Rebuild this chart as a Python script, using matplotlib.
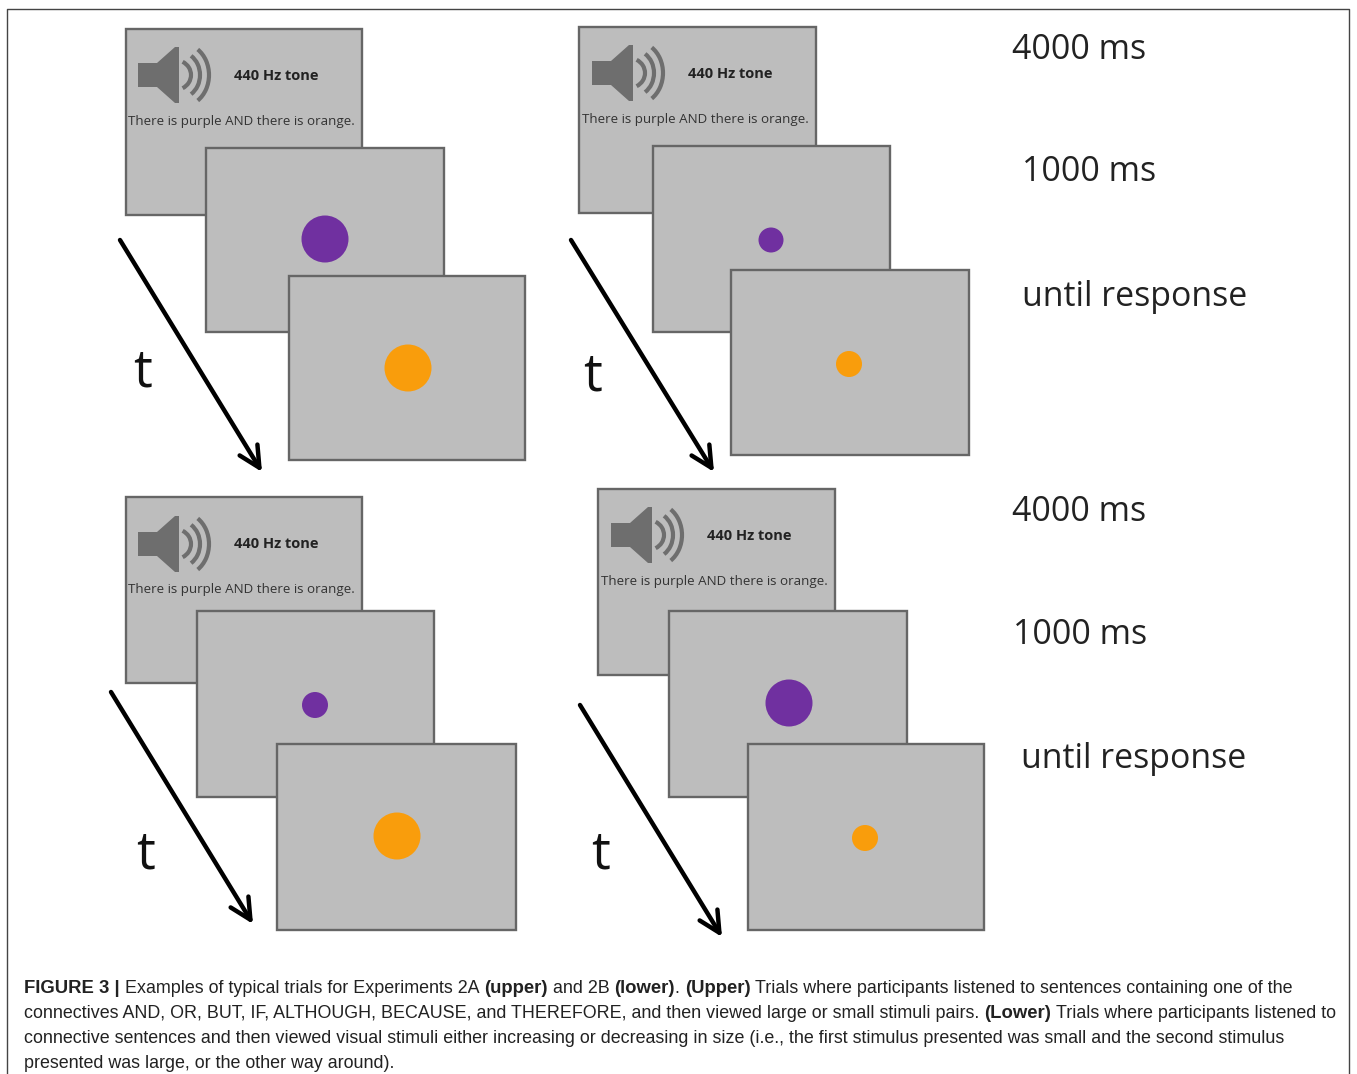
import matplotlib
matplotlib.use("Agg")
import matplotlib.pyplot as plt
from matplotlib.patches import Rectangle, Circle, Polygon, Arc

W, H = 1357, 1074
GREY = "#bdbdbd"
EDGE = "#666666"
PURPLE = "#7030a0"
ORANGE = "#f99d0c"
SPK = "#6e6e6e"

# Panels: sound slide (x0, y0, x1, y1), then the two stimulus slides
sound_slides = [(126, 29, 362, 215), (579, 27, 816, 213), (126, 497, 362, 683), (598, 489, 835, 675)]
first_slides = [(206, 148, 444, 332), (653, 146, 890, 332), (197, 611, 434, 797), (669, 611, 907, 797)]
second_slides = [(289, 276, 525, 460), (731, 270, 969, 455), (277, 744, 516, 930), (748, 744, 984, 930)]
purple_dots = [(325, 239, 23.5), (771, 240, 12.5), (315, 705, 13), (789, 703, 23.5)]
orange_dots = [(408, 368, 23.5), (849, 364, 13), (397, 836, 23.5), (865, 838, 13)]
speakers = [(138, 75), (592, 73), (138, 544), (611, 535)]
tone_pos = [(276, 76), (730, 74), (276, 544), (749, 536)]
sentence_pos = [(241, 122), (695, 120), (241, 589), (714, 581)]
arrows = [((120, 240), (262, 472)), ((571, 240), (714, 472)), ((111, 692), (253, 924)), ((580, 705), (722, 937))]
t_pos = [(143, 373), (593, 377), (146, 855), (601, 855)]

tone_label = "440 Hz tone"
sentence = "There is purple AND there is orange."
time_labels = ["4000 ms", "1000 ms", "until response", "4000 ms", "1000 ms", "until response"]
time_pos = [(1012, 50), (1022, 172), (1022, 297), (1012, 512), (1013, 635), (1021, 759)]

caption = [
    [("FIGURE 3 |", True), (" Examples of typical trials for Experiments 2A ", False), ("(upper)", True),
     (" and 2B ", False), ("(lower)", True), (". ", False), ("(Upper)", True),
     (" Trials where participants listened to sentences containing one of the", False)],
    [("connectives AND, OR, BUT, IF, ALTHOUGH, BECAUSE, and THEREFORE, and then viewed large or small stimuli pairs. ", False),
     ("(Lower)", True), (" Trials where participants listened to", False)],
    [("connective sentences and then viewed visual stimuli either increasing or decreasing in size (i.e., the first stimulus presented was small and the second stimulus", False)],
    [("presented was large, or the other way around).", False)],
]
caption_y = [993, 1018, 1043, 1068]
CAP_SIZE = 12.9
CAP_BOLD_SIZE = 13.3

fig = plt.figure(figsize=(W / 100, H / 100), dpi=100)
ax = fig.add_axes([0, 0, 1, 1])
ax.set_xlim(0, W)
ax.set_ylim(H, 0)
ax.axis("off")

# outer frame, runs off the bottom
ax.plot([7, 7, 1349, 1349], [H, 9, 9, H], color="#444444", lw=1)


def slide(box, z):
    x0, y0, x1, y1 = box
    ax.add_patch(Rectangle((x0, y0), x1 - x0, y1 - y0, fc=GREY, ec=EDGE, lw=1.7, zorder=z))


def speaker(x, y):
    ax.add_patch(Polygon([(x, y - 12), (x + 19, y - 12), (x + 37, y - 28), (x + 41, y - 28),
                          (x + 41, y + 28), (x + 37, y + 28), (x + 19, y + 12), (x, y + 12)],
                         fc=SPK, ec="none", zorder=3))
    for cx, rx, ry in [(37, 16, 15), (42, 20, 23), (45, 26, 31)]:
        ax.add_patch(Arc((x + cx, y), 2 * rx, 2 * ry, theta1=-60, theta2=60, color=SPK, lw=3, zorder=3))


for i in range(4):
    slide(sound_slides[i], 1)
    speaker(*speakers[i])
    ax.text(*tone_pos[i], tone_label, fontsize=10.5, fontweight="bold", family="Open Sans",
            ha="center", va="center", color="#222222", zorder=3)
    ax.text(*sentence_pos[i], sentence, fontsize=9.6, family="Open Sans",
            ha="center", va="center", color="#333333", zorder=3)
    slide(first_slides[i], 4)
    px, py, pr = purple_dots[i]
    ax.add_patch(Circle((px, py), pr, fc=PURPLE, ec="none", zorder=5))
    slide(second_slides[i], 6)
    ox, oy, or_ = orange_dots[i]
    ax.add_patch(Circle((ox, oy), or_, fc=ORANGE, ec="none", zorder=7))
    ax.annotate("", xy=arrows[i][1], xytext=arrows[i][0],
                arrowprops=dict(arrowstyle="->,head_length=1.5,head_width=0.75", color="black",
                                lw=3.2, shrinkA=0, shrinkB=0), zorder=8)
    ax.text(*t_pos[i], "t", fontsize=38, family="Open Sans", ha="center", va="center", color="#111111")

for lab, (x, y) in zip(time_labels, time_pos):
    ax.text(x, y, lab, fontsize=24.4, family="Open Sans", ha="left", va="center", color="#222222")

# caption: bold and regular runs share a line, so measure each run
fig.canvas.draw()
rend = fig.canvas.get_renderer()
space = 5.0
for runs, y in zip(caption, caption_y):
    x = 24
    for txt, bold in runs:
        weight = "bold" if bold else "normal"
        size = CAP_BOLD_SIZE if bold else CAP_SIZE
        lead = len(txt) - len(txt.lstrip())
        trail = len(txt) - len(txt.rstrip())
        t = ax.text(x + lead * space, y, txt.strip(), fontsize=size, family="Liberation Sans",
                    fontweight=weight, ha="left", va="baseline", color="#222222")
        x += t.get_window_extent(rend).width + (lead + trail) * space

fig.savefig("out.png", dpi=100, facecolor="white")
